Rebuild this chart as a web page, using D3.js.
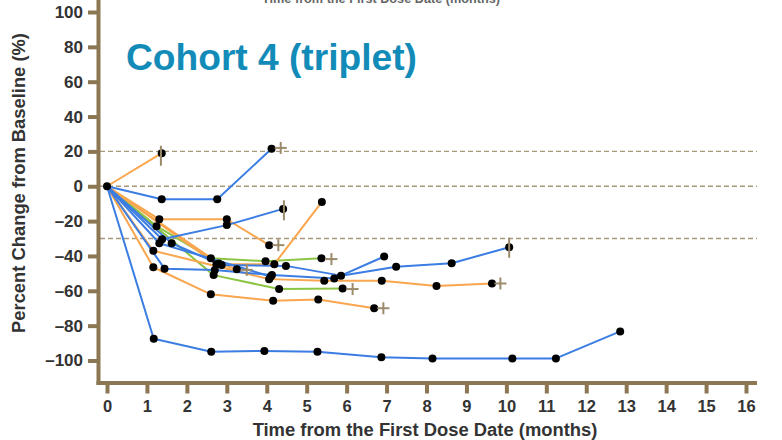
<!DOCTYPE html>
<html><head><meta charset="utf-8">
<script src="https://cdn.jsdelivr.net/npm/d3@7"></script>
<style>
html,body{margin:0;padding:0;background:#fff;}
svg{display:block;font-family:"Liberation Sans",Arial,sans-serif;}
</style></head>
<body>
<svg id="chart" width="782" height="440"></svg>
<script>
// ---- data ----
const xTickValues = [0,1,2,3,4,5,6,7,8,9,10,11,12,13,14,15,16];
const yTickValues = [-100,-80,-60,-40,-20,0,20,40,60,80,100];
const refLines = [20, 0, -30];

// each patient: [month, % change]
const orangeA  = [[0,0],[1.37,19]];
const blueB    = [[0,0],[1.37,-7.5],[2.76,-7.5],[4.12,21.5]];
const orangeC  = [[0,0],[1.31,-19],[3.0,-19],[4.06,-33.8]];
const blueE    = [[0,0],[1.38,-30.4],[3.0,-22.3],[4.41,-13]];
const orangeD  = [[0,0],[2.74,-44.8],[4.19,-44.7],[5.38,-9]];
const greenG1  = [[0,0],[1.24,-22.9],[2.6,-41.3],[3.97,-43],[5.37,-41.3]];
const greenG2  = [[0,0],[2.67,-51],[4.31,-59],[5.9,-58.7]];
const orangeO6 = [[0,0],[2.8,-44.3],[3.25,-47.6]];
const orange9  = [[0,0],[1.16,-46.5],[2.6,-62],[4.16,-65.7],[5.29,-65],[6.69,-70]];
const orange10 = [[0,0],[1.16,-37],[4.06,-53.3],[5.44,-54.2],[6.88,-54.2],[8.25,-57.3],[9.64,-55.8]];
const blue11   = [[0,0],[1.44,-47.3],[2.7,-48],[4.13,-51],[5.69,-53],[6.94,-40.3]];
const blue12   = [[0,0],[1.62,-32.7],[2.87,-45.2],[4.48,-45.7],[5.86,-51.3],[7.24,-46.2],[8.63,-44.2],[10.07,-35]];
const blue15   = [[0,0],[1.31,-32.7],[4.1,-51.8]];
const blueLong = [[0,0],[1.17,-87.5],[2.61,-95],[3.94,-94.5],[5.27,-95],[6.87,-98.2],[8.15,-98.8],[10.15,-98.8],[11.24,-98.8],[12.85,-83.3]];

const plusMarks = [[4.35,22],[4.29,-33.8],[3.5,-48],[5.62,-41.8],[6.15,-59],[6.92,-70],[9.85,-55.8]];
const barMarks  = [[1.35,17.5],[4.43,-13.8],[10.07,-35.3]];

const ORANGE = "#f9a64f", BLUE = "#3b7de3", GREEN = "#8cc544";
const series = [
  {pts: greenG1, c: GREEN}, {pts: greenG2, c: GREEN},
  {pts: orangeA, c: ORANGE}, {pts: orangeC, c: ORANGE}, {pts: orangeD, c: ORANGE},
  {pts: orangeO6, c: ORANGE}, {pts: orange9, c: ORANGE}, {pts: orange10, c: ORANGE},
  {pts: blueB, c: BLUE}, {pts: blueE, c: BLUE}, {pts: blue11, c: BLUE},
  {pts: blue12, c: BLUE}, {pts: blue15, c: BLUE}, {pts: blueLong, c: BLUE}
];

// ---- drawing ----
const svg = d3.select("#chart");
const x = d3.scaleLinear().domain([0,16]).range([107,746]);
const y = d3.scaleLinear().domain([-100,100]).range([360.5,12]);
const AX = "#8b7752";
const fmt = d => d < 0 ? "\u2013" + Math.abs(d) : String(d);

function fitText(sel, target){
  const w = sel.node().getComputedTextLength();
  const fs = parseFloat(sel.attr("font-size"));
  sel.attr("font-size", (fs*target/w).toFixed(2));
}

// top cut-off title of the chart above (only its lower edge shows)
const topT = svg.append("text").attr("x",262).attr("y",3).attr("font-size",12)
  .attr("font-weight","bold").attr("fill","#666").text("Time from the First Dose Date (months)");
fitText(topT, 238);

// reference dashed lines
svg.append("g").selectAll("line").data(refLines).join("line")
  .attr("x1",100).attr("x2",757).attr("y1",d=>y(d)).attr("y2",d=>y(d))
  .attr("stroke","#a8997b").attr("stroke-width",1.4).attr("stroke-dasharray","5,3");

// axes
const yAxis = svg.append("g").attr("transform","translate(97.5,0)")
  .call(d3.axisLeft(y).tickValues(yTickValues).tickSize(9.5).tickPadding(5).tickFormat(fmt));
const xAxis = svg.append("g").attr("transform","translate(0,383)")
  .call(d3.axisBottom(x).tickValues(xTickValues).tickSize(10.5).tickPadding(7).tickFormat(fmt));
[yAxis, xAxis].forEach(g=>{
  g.select(".domain").remove();
  g.selectAll(".tick line").attr("stroke",AX).attr("stroke-width",4);
  g.selectAll(".tick text").attr("fill","#333").attr("font-size",17).attr("font-weight","bold")
    .attr("font-family","'Liberation Sans',Arial,sans-serif");
});
xAxis.selectAll(".tick text").attr("font-size",16.5);
svg.append("line").attr("x1",98.5).attr("x2",98.5).attr("y1",0).attr("y2",385)
  .attr("stroke",AX).attr("stroke-width",4);
svg.append("line").attr("x1",96.5).attr("x2",757).attr("y1",383).attr("y2",383)
  .attr("stroke",AX).attr("stroke-width",4);

// lines
const line = d3.line().x(d=>x(d[0])).y(d=>y(d[1]));
svg.append("g").selectAll("path").data(series).join("path")
  .attr("d", d=>line(d.pts)).attr("fill","none").attr("stroke",d=>d.c)
  .attr("stroke-width",2).attr("stroke-linejoin","round");

// dots
const allPts = series.flatMap(s=>s.pts.slice(1));
svg.append("g").selectAll("circle").data([[0,0], ...allPts]).join("circle")
  .attr("cx",d=>x(d[0])).attr("cy",d=>y(d[1])).attr("r",4).attr("fill","#000");

// censor markers
const MK = "#9c8b6b";
const pg = svg.append("g").attr("stroke",MK).attr("stroke-width",2);
plusMarks.forEach(p=>{
  pg.append("line").attr("x1",x(p[0])-6).attr("x2",x(p[0])+6).attr("y1",y(p[1])).attr("y2",y(p[1]));
  pg.append("line").attr("x1",x(p[0])).attr("x2",x(p[0])).attr("y1",y(p[1])-6).attr("y2",y(p[1])+6);
});
barMarks.forEach(p=>{
  pg.append("line").attr("x1",x(p[0])).attr("x2",x(p[0])).attr("y1",y(p[1])-10).attr("y2",y(p[1])+10);
});

// title
const title = svg.append("text").attr("x",126).attr("y",70).attr("font-size",37)
  .attr("font-weight","bold").attr("fill","#128bb8").text("Cohort 4 (triplet)");
fitText(title, 291);

// axis titles
const xt = svg.append("text").attr("x",425).attr("y",436).attr("text-anchor","middle")
  .attr("font-size",16).attr("font-weight","bold").attr("fill","#333")
  .text("Time from the First Dose Date (months)");
fitText(xt, 345);
const yt = svg.append("text").attr("transform","translate(25,183) rotate(-90)").attr("text-anchor","middle")
  .attr("font-size",16).attr("font-weight","bold").attr("fill","#333")
  .text("Percent Change from Baseline (%)");
fitText(yt, 300);
</script>
</body></html>
